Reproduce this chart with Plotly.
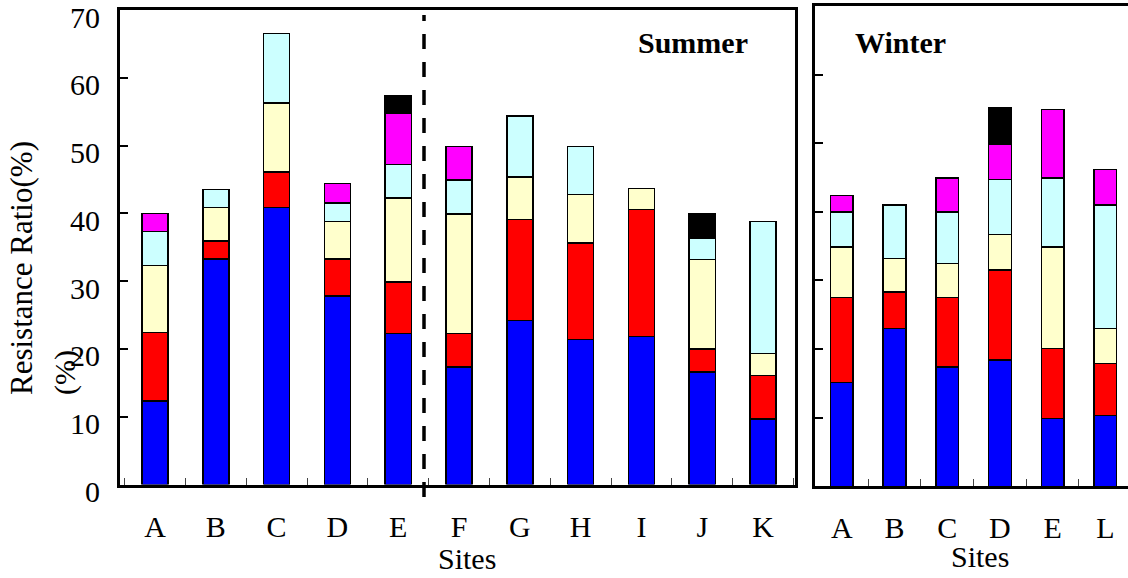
import plotly.graph_objects as go

# ---------------- data ----------------
summer_sites = ["A", "B", "C", "D", "E", "F", "G", "H", "I", "J", "K"]
winter_sites = ["A", "B", "C", "D", "E", "L"]

layer_colors = ["#0000FF", "#FF0000", "#FFFFCC", "#CCFFFF", "#FF00FF", "#000000"]

# segment heights (%), bottom to top
summer_blue    = [12.3, 33.3, 40.9, 27.8, 22.3, 17.3, 24.2, 21.4, 21.8, 16.6, 9.7]
summer_red     = [10.1, 2.6, 5.2, 5.5, 7.6, 5.0, 14.9, 14.2, 18.8, 3.4, 6.4]
summer_yellow  = [9.9, 5.0, 10.2, 5.5, 12.4, 17.6, 6.3, 7.2, 3.1, 13.2, 3.2]
summer_cyan    = [5.0, 2.6, 10.2, 2.7, 4.9, 5.0, 9.0, 7.1, None, 3.2, 19.5]
summer_magenta = [2.7, None, None, 2.9, 7.6, 5.0, None, None, None, None, None]
summer_black   = [None, None, None, None, 2.5, None, None, None, None, 3.6, None]

winter_blue    = [15.1, 23.0, 17.4, 18.4, 9.9, 10.3]
winter_red     = [12.4, 5.3, 10.1, 13.1, 10.2, 7.6]
winter_yellow  = [7.4, 4.9, 5.0, 5.2, 14.8, 5.1]
winter_cyan    = [5.1, 7.8, 7.5, 8.0, 10.0, 18.0]
winter_magenta = [2.4, None, 4.9, 5.1, 10.0, 5.2]
winter_black   = [None, None, None, 5.3, None, None]

y_ticks = [0, 10, 20, 30, 40, 50, 60, 70]

summer_layers = [summer_blue, summer_red, summer_yellow, summer_cyan, summer_magenta, summer_black]
winter_layers = [winter_blue, winter_red, winter_yellow, winter_cyan, winter_magenta, winter_black]

# ---------------- figure ----------------
W, H = 1128, 578
ML, MR, MT, MB = 120, 0, 6, 91
PW, PH = W - ML - MR, H - MT - MB


def px_x(p):
    return (p - ML) / PW


def px_y(p):
    return (H - MB - p) / PH


FONT = "Liberation Serif, Times New Roman, serif"
fig = go.Figure()

for vals, col in zip(summer_layers, layer_colors):
    fig.add_trace(go.Bar(x=summer_sites, y=vals, xaxis="x", yaxis="y", width=0.43,
                         marker=dict(color=col, line=dict(color="black", width=1.5)),
                         showlegend=False))
for vals, col in zip(winter_layers, layer_colors):
    fig.add_trace(go.Bar(x=winter_sites, y=vals, xaxis="x2", yaxis="y2", width=0.43,
                         marker=dict(color=col, line=dict(color="black", width=1.5)),
                         showlegend=False))

tickfont = dict(family=FONT, size=30, color="black")
xcommon = dict(type="category", showline=True, linecolor="black", linewidth=3,
               mirror=True, ticks="inside", ticklen=7, tickwidth=1, tickcolor="#444",
               tickson="boundaries", tickfont=tickfont, showgrid=False, zeroline=False,
               ticklabelstandoff=13, automargin=False)

fig.update_layout(
    width=W, height=H,
    margin=dict(l=ML, r=MR, t=MT, b=MB),
    paper_bgcolor="white", plot_bgcolor="white",
    barmode="stack",
    xaxis=dict(domain=[0, px_x(795)], range=[-0.576, 10.526],
               categoryorder="array", categoryarray=summer_sites, anchor="y", **xcommon),
    xaxis2=dict(domain=[px_x(815), 1], range=[-0.51, 5.43],
                categoryorder="array", categoryarray=winter_sites, anchor="y2", **xcommon),
    yaxis=dict(domain=[px_y(484.5), px_y(10)], range=[0, 70], tickvals=y_ticks,
               showline=True, linecolor="black", linewidth=3, mirror=True,
               ticks="inside", ticklen=8, tickwidth=1.5, tickcolor="black",
               tickfont=tickfont, showgrid=False, zeroline=False, anchor="x",
               ticklabelstandoff=11, ticklabelshift=7, ticklabeloverflow="allow",
               automargin=False),
    yaxis2=dict(domain=[px_y(486.3), 1], range=[0, 70], tickvals=y_ticks,
                showline=True, linecolor="black", linewidth=3, mirror=False,
                ticks="inside", ticklen=8, tickwidth=1.5, tickcolor="black",
                showticklabels=False, showgrid=False, zeroline=False, anchor="x2",
                automargin=False),
)

# dashed divider between E and F in summer panel
fig.add_shape(type="line", xref="x domain", yref="paper",
              x0=(424 - 120) / 675, x1=(424 - 120) / 675,
              y0=px_y(497), y1=px_y(15),
              line=dict(color="black", width=3.5, dash="15px,13px"))

ann_font = dict(family=FONT, size=30, color="black")
fig.add_annotation(text="<b>Summer</b>", xref="paper", yref="paper", x=px_x(693), y=px_y(42),
                   showarrow=False, font=ann_font, xanchor="center", yanchor="middle")
fig.add_annotation(text="<b>Winter</b>", xref="paper", yref="paper", x=px_x(900), y=px_y(42),
                   showarrow=False, font=ann_font, xanchor="center", yanchor="middle")
fig.add_annotation(text="Sites", xref="paper", yref="paper", x=px_x(467), y=px_y(558),
                   showarrow=False, font=ann_font, xanchor="center", yanchor="middle")
fig.add_annotation(text="Sites", xref="paper", yref="paper", x=px_x(980), y=px_y(556),
                   showarrow=False, font=ann_font, xanchor="center", yanchor="middle")
fig.add_annotation(text="Resistance Ratio(%)", xref="paper", yref="paper", x=px_x(22), y=px_y(268),
                   showarrow=False, font=dict(family=FONT, size=31, color="black"),
                   textangle=-90, xanchor="center", yanchor="middle")
fig.add_annotation(text="(%)", xref="paper", yref="paper", x=px_x(65), y=px_y(373),
                   showarrow=False, font=ann_font, textangle=-90, xanchor="center", yanchor="middle")

fig.write_html("out.html", config={"displayModeBar": False},
               post_script="document.body.style.margin='0px';document.body.style.overflow='hidden';")
